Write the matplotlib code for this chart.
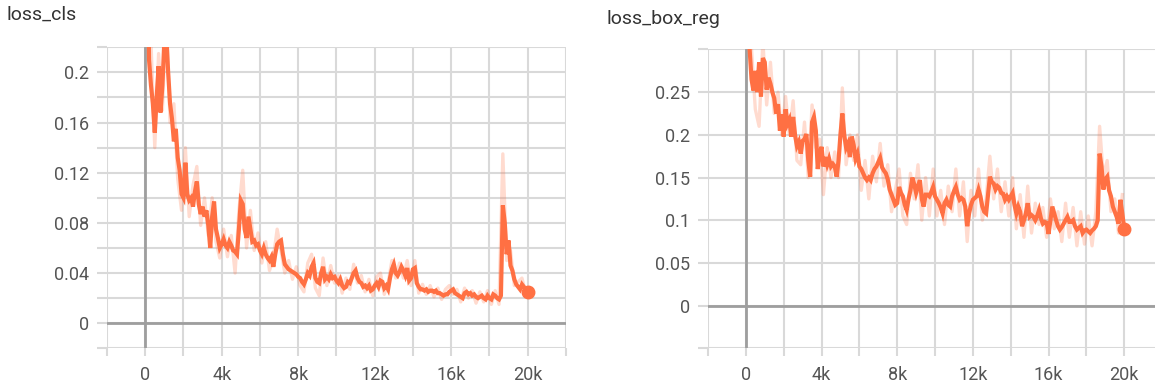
import numpy as np
import matplotlib
matplotlib.use("Agg")
import matplotlib.pyplot as plt
from matplotlib.ticker import FixedLocator, FuncFormatter

plt.rcParams['font.family'] = ['Roboto', 'DejaVu Sans']

# logged every 100 iterations (smoothed) / every 200 iterations (raw)
steps = np.arange(0, 20001, 100)
raw_steps = np.arange(100, 20000, 200)

#loss_cls, smoothed
cls_smooth = [
    0.6, 0.35, 0.21, 0.19, 0.175, 0.152, 0.18, 0.205, 0.168, 0.19,
    0.225, 0.23, 0.2, 0.175, 0.163, 0.145, 0.155, 0.132, 0.122, 0.103,
    0.1, 0.128, 0.103, 0.098, 0.1, 0.093, 0.105, 0.113, 0.095, 0.087,
    0.093, 0.085, 0.09, 0.078, 0.06, 0.085, 0.097, 0.075, 0.068, 0.06,
    0.063, 0.067, 0.062, 0.06, 0.065, 0.062, 0.058, 0.057, 0.055, 0.075,
    0.098, 0.095, 0.075, 0.068, 0.085, 0.075, 0.065, 0.066, 0.062, 0.063,
    0.058, 0.055, 0.06, 0.055, 0.052, 0.05, 0.053, 0.045, 0.055, 0.063,
    0.065, 0.066, 0.055, 0.047, 0.045, 0.043, 0.042, 0.041, 0.04, 0.039,
    0.037, 0.036, 0.033, 0.031, 0.035, 0.04, 0.038, 0.045, 0.048, 0.036,
    0.033, 0.032, 0.04, 0.045, 0.035, 0.037, 0.035, 0.039, 0.036, 0.037,
    0.034, 0.032, 0.035, 0.03, 0.028, 0.029, 0.033, 0.032, 0.036, 0.04,
    0.042, 0.036, 0.033, 0.032, 0.029, 0.03, 0.028, 0.03, 0.026, 0.027,
    0.03, 0.032, 0.029, 0.034, 0.033, 0.028, 0.03, 0.027, 0.036, 0.043,
    0.047, 0.04, 0.038, 0.041, 0.045, 0.042, 0.038, 0.044, 0.034, 0.036,
    0.043, 0.044, 0.032, 0.029, 0.027, 0.027, 0.026, 0.027, 0.025, 0.026,
    0.026, 0.025, 0.026, 0.024, 0.024, 0.023, 0.022, 0.023, 0.023, 0.025,
    0.026, 0.027, 0.024, 0.023, 0.022, 0.021, 0.02, 0.024, 0.025, 0.023,
    0.024, 0.022, 0.023, 0.021, 0.02, 0.021, 0.022, 0.02, 0.019, 0.022,
    0.02, 0.019, 0.023, 0.022, 0.02, 0.019, 0.022, 0.094, 0.08, 0.055,
    0.066, 0.046, 0.042, 0.035, 0.031, 0.029, 0.027, 0.031, 0.029, 0.026,
    0.025,
]

#loss_cls, raw
cls_raw = [
    0.42, 0.225, 0.14, 0.215, 0.17, 0.25, 0.16, 0.175, 0.115, 0.09,
    0.14, 0.085, 0.11, 0.125, 0.078, 0.1, 0.07, 0.1, 0.065, 0.052,
    0.075, 0.053, 0.07, 0.04, 0.09, 0.122, 0.06, 0.09, 0.058, 0.072,
    0.048, 0.065, 0.042, 0.052, 0.075, 0.058, 0.04, 0.05, 0.035, 0.045,
    0.03, 0.025, 0.048, 0.055, 0.028, 0.022, 0.052, 0.03, 0.046, 0.032,
    0.038, 0.024, 0.036, 0.027, 0.047, 0.032, 0.038, 0.025, 0.035, 0.022,
    0.037, 0.04, 0.023, 0.032, 0.05, 0.036, 0.048, 0.036, 0.05, 0.03,
    0.05, 0.024, 0.031, 0.023, 0.03, 0.021, 0.028, 0.019, 0.027, 0.03,
    0.023, 0.027, 0.017, 0.028, 0.02, 0.026, 0.016, 0.025, 0.017, 0.026,
    0.015, 0.026, 0.015, 0.135, 0.05, 0.058, 0.03, 0.033, 0.036, 0.024,
]

#loss_box_reg, smoothed
box_smooth = [
    0.45, 0.33, 0.3, 0.265, 0.252, 0.275, 0.25, 0.285, 0.245, 0.29,
    0.285, 0.253, 0.267, 0.26, 0.25, 0.243, 0.225, 0.236, 0.205, 0.224,
    0.198, 0.23, 0.213, 0.218, 0.198, 0.221, 0.2, 0.187, 0.192, 0.178,
    0.193, 0.195, 0.201, 0.17, 0.151, 0.215, 0.221, 0.205, 0.16, 0.178,
    0.186, 0.163, 0.174, 0.165, 0.172, 0.163, 0.166, 0.163, 0.151, 0.17,
    0.2, 0.225, 0.2, 0.185, 0.19, 0.174, 0.198, 0.188, 0.172, 0.178,
    0.163, 0.16, 0.155, 0.15, 0.147, 0.15, 0.147, 0.155, 0.16, 0.163,
    0.168, 0.173, 0.162, 0.158, 0.155, 0.148, 0.136, 0.13, 0.124, 0.118,
    0.12, 0.139, 0.132, 0.128, 0.118, 0.112, 0.125, 0.135, 0.15, 0.142,
    0.132, 0.14, 0.147, 0.125, 0.116, 0.13, 0.13, 0.128, 0.133, 0.139,
    0.128, 0.124, 0.12, 0.115, 0.108, 0.12, 0.124, 0.118, 0.116, 0.128,
    0.134, 0.139, 0.13, 0.124, 0.126, 0.124, 0.116, 0.093, 0.108, 0.118,
    0.124, 0.126, 0.128, 0.136, 0.128, 0.116, 0.11, 0.108, 0.13, 0.151,
    0.145, 0.143, 0.136, 0.14, 0.138, 0.132, 0.131, 0.124, 0.128, 0.124,
    0.128, 0.132, 0.118, 0.108, 0.116, 0.11, 0.093, 0.1, 0.108, 0.12,
    0.104, 0.106, 0.104, 0.1, 0.105, 0.112, 0.102, 0.096, 0.098, 0.097,
    0.084, 0.1, 0.116, 0.108, 0.1, 0.093, 0.089, 0.092, 0.096, 0.1,
    0.104, 0.098, 0.098, 0.1, 0.093, 0.089, 0.091, 0.093, 0.085, 0.088,
    0.089, 0.087, 0.085, 0.088, 0.09, 0.093, 0.1, 0.178, 0.163, 0.136,
    0.148, 0.151, 0.135, 0.128, 0.116, 0.11, 0.104, 0.096, 0.124, 0.108,
    0.09,
]

#loss_box_reg, raw
box_raw = [
    0.42, 0.3, 0.23, 0.21, 0.31, 0.235, 0.285, 0.225, 0.25, 0.2,
    0.245, 0.2, 0.24, 0.17, 0.165, 0.215, 0.15, 0.235, 0.185, 0.195,
    0.13, 0.185, 0.15, 0.18, 0.15, 0.255, 0.165, 0.2, 0.17, 0.2,
    0.135, 0.17, 0.125, 0.175, 0.145, 0.19, 0.14, 0.165, 0.11, 0.135,
    0.16, 0.105, 0.095, 0.155, 0.125, 0.165, 0.1, 0.15, 0.105, 0.16,
    0.105, 0.135, 0.095, 0.14, 0.11, 0.16, 0.105, 0.145, 0.075, 0.135,
    0.105, 0.16, 0.1, 0.125, 0.175, 0.125, 0.16, 0.11, 0.145, 0.105,
    0.15, 0.09, 0.13, 0.08, 0.14, 0.085, 0.12, 0.095, 0.115, 0.08,
    0.125, 0.09, 0.11, 0.075, 0.12, 0.08, 0.115, 0.07, 0.11, 0.072,
    0.105, 0.07, 0.11, 0.21, 0.15, 0.17, 0.11, 0.125, 0.085, 0.13,
]

line_color = '#ff7043'
grid_color = '#d9d9d9'
zero_color = '#9e9e9e'
text_color = '#555555'


def k_fmt(v, pos):
    return '0' if v == 0 else f'{int(v / 1000)}k'


def y_fmt(v, pos):
    return '0' if abs(v) < 1e-9 else f'{v:g}'


def style_axes(ax, ylim, y_major, y_minor):
    ax.set_xlim(-2000, 22000)
    ax.set_ylim(*ylim)
    ax.xaxis.set_major_locator(FixedLocator(range(0, 20001, 4000)))
    ax.xaxis.set_minor_locator(FixedLocator(range(-2000, 22001, 4000)))
    ax.yaxis.set_major_locator(FixedLocator(y_major))
    ax.yaxis.set_minor_locator(FixedLocator(y_minor))
    ax.xaxis.set_major_formatter(FuncFormatter(k_fmt))
    ax.yaxis.set_major_formatter(FuncFormatter(y_fmt))
    ax.grid(True, which='both', color=grid_color, linewidth=1.5)
    ax.set_axisbelow(True)
    for s in ax.spines.values():
        s.set_visible(False)
    ax.tick_params(which='both', color=grid_color, width=1.5, labelcolor=text_color,
                   labelsize=13)
    ax.tick_params(axis='x', which='both', length=6, pad=7)
    ax.tick_params(axis='y', which='both', length=7, pad=6)
    ax.axhline(0, color=zero_color, linewidth=2, zorder=1)
    ax.axvline(0, color=zero_color, linewidth=2, zorder=1)


def draw_run(ax, smooth, raw):
    ax.plot(raw_steps, raw, color=line_color, alpha=0.25, linewidth=2.4, zorder=2)
    ax.plot(steps, smooth, color=line_color, linewidth=3.0, zorder=3,
            solid_joinstyle='miter')
    ax.plot(steps[-1], smooth[-1], 'o', color=line_color, markersize=9, zorder=4)


fig = plt.figure(figsize=(11.55, 3.9), dpi=100)

ax1 = fig.add_axes([0.0926, 0.1069, 0.3974, 0.7718])
style_axes(ax1, (-0.02, 0.22), [0, 0.04, 0.08, 0.12, 0.16, 0.2],
           [-0.02, 0.02, 0.06, 0.1, 0.14, 0.18, 0.22])
draw_run(ax1, cls_smooth, cls_raw)

ax2 = fig.add_axes([0.6130, 0.1069, 0.3931, 0.7662])
style_axes(ax2, (-0.05, 0.30), [0, 0.05, 0.1, 0.15, 0.2, 0.25],
           [-0.05, 0.3])
draw_run(ax2, box_smooth, box_raw)

fig.text(6 / 1155, 1 - 6 / 390, 'loss_cls', fontsize=14, color='#333333', va='top')
fig.text(606 / 1155, 1 - 10 / 390, 'loss_box_reg', fontsize=14, color='#333333', va='top')

fig.savefig('out.png', dpi=100)
